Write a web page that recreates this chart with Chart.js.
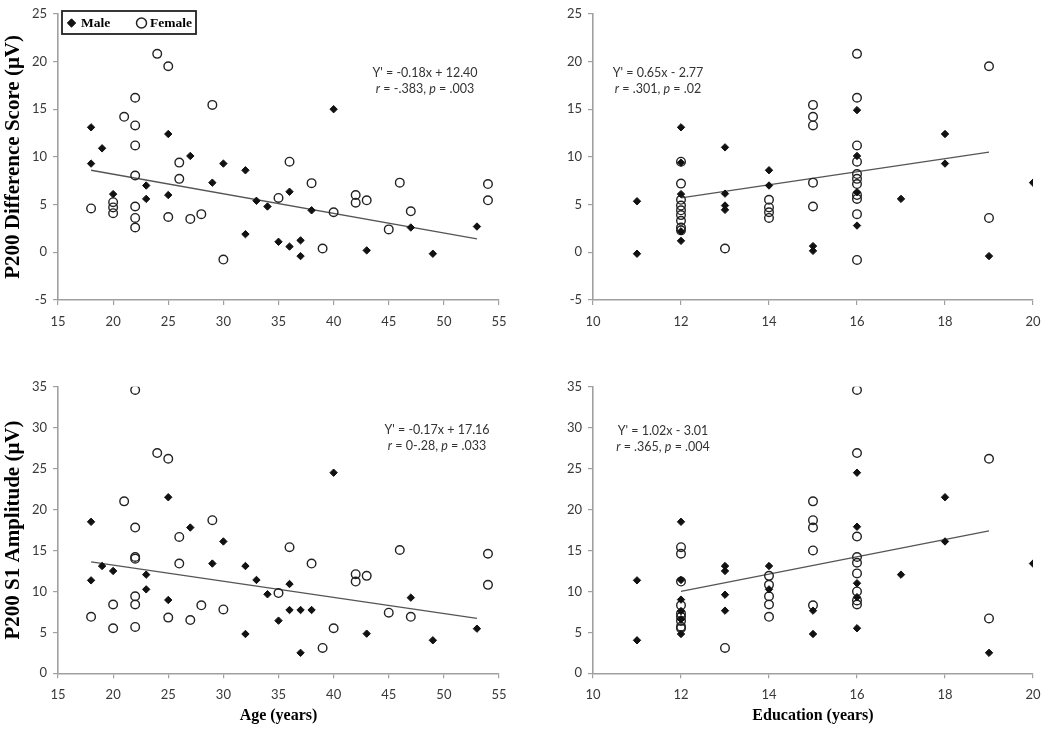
<!DOCTYPE html>
<html>
<head>
<meta charset="utf-8">
<script src="https://cdn.jsdelivr.net/npm/chart.js@4.4.1/dist/chart.umd.min.js"></script>
<style>
  html, body { margin: 0; padding: 0; background: #fff; }
  #wrap { position: relative; width: 1050px; height: 732px; overflow: hidden; background: #fff; }
  canvas { position: absolute; }
</style>
</head>
<body>
<div id="wrap">
  <canvas id="tl" width="525" height="345" style="left:0;top:0"></canvas>
  <canvas id="tr" width="525" height="345" style="left:525px;top:0"></canvas>
  <canvas id="bl" width="525" height="366" style="left:0;top:366px"></canvas>
  <canvas id="br" width="525" height="366" style="left:525px;top:366px"></canvas>
</div>
<script>
// tick labels
const ageTicks = [15, 20, 25, 30, 35, 40, 45, 50, 55];
const eduTicks = [10, 12, 14, 16, 18, 20];
const diffTicks = [-5, 0, 5, 10, 15, 20, 25];
const ampTicks = [0, 5, 10, 15, 20, 25, 30, 35];

// age vs P200 difference score
const maleAge = [18, 19, 18, 20, 25, 23, 23, 25, 27, 30, 29, 32, 32, 33, 34, 36, 35, 36, 37, 37, 38, 40, 43, 47, 49, 53];
const maleDiff = [13.1, 10.9, 9.3, 6.1, 12.4, 7.0, 5.6, 6.0, 10.1, 9.3, 7.3, 8.6, 1.9, 5.4, 4.8, 6.35, 1.1, 0.6, 1.25, -0.4, 4.4, 15.0, 0.2, 2.6, -0.15, 2.7];
const femaleAge = [18, 20, 20, 20, 21, 22, 22, 22, 22, 22, 22, 22, 24, 25, 25, 26, 26, 27, 28, 29, 30, 35, 36, 38, 39, 40, 42, 42, 43, 45, 46, 47, 54, 54];
const femaleDiff = [4.6, 5.25, 4.7, 4.1, 14.2, 16.2, 13.3, 11.2, 8.05, 4.8, 3.6, 2.6, 20.8, 19.5, 3.7, 9.4, 7.7, 3.5, 4.0, 15.45, -0.76, 5.7, 9.5, 7.25, 0.4, 4.2, 6.0, 5.2, 5.45, 2.4, 7.3, 4.3, 7.15, 5.45];
const fitAgeDiffX = [18, 53];
const fitAgeDiffY = [8.6, 1.4];

// education vs P200 difference score
const maleEdu = [11, 11, 12, 12, 12, 12, 12, 13, 13, 13, 13, 14, 14, 15, 15, 16, 16, 16, 16, 17, 18, 18, 19, 20];
const maleEduDiff = [5.35, -0.15, 13.1, 9.4, 6.1, 2.2, 1.2, 11.0, 6.15, 4.9, 4.45, 8.6, 7.0, 0.65, 0.15, 14.9, 10.1, 6.3, 2.8, 5.6, 12.4, 9.3, -0.4, 7.3];
const femaleEdu = [12, 12, 12, 12, 12, 12, 12, 12, 12, 13, 14, 14, 14, 14, 15, 15, 15, 15, 15, 16, 16, 16, 16, 16, 16, 16, 16, 16, 16, 16, 19, 19];
const femaleEduDiff = [9.5, 7.2, 5.5, 4.9, 4.4, 3.9, 3.3, 2.6, 2.3, 0.4, 5.5, 4.7, 4.2, 3.6, 15.45, 14.2, 13.3, 7.3, 4.8, 20.8, 16.2, 11.2, 9.5, 8.2, 7.7, 7.15, 6.0, 5.6, 4.0, -0.8, 19.5, 3.6];
const fitEduDiffX = [12, 19];
const fitEduDiffY = [5.7, 10.5];

// age vs P200 S1 amplitude
const maleAge2 = [18, 18, 19, 20, 23, 23, 25, 25, 27, 29, 30, 32, 32, 33, 34, 35, 36, 36, 37, 37, 38, 40, 43, 47, 49, 53];
const maleAmp = [18.5, 11.35, 13.1, 12.5, 12.05, 10.25, 21.5, 8.95, 17.8, 13.4, 16.1, 13.1, 4.8, 11.4, 9.65, 6.43, 10.9, 7.73, 7.73, 2.5, 7.73, 24.5, 4.84, 9.24, 4.03, 5.45];
const femaleAge2 = [18, 20, 20, 21, 22, 22, 22, 22, 22, 22, 22, 24, 25, 25, 26, 26, 27, 28, 29, 30, 35, 36, 38, 39, 40, 42, 42, 43, 45, 46, 47, 54, 54];
const femaleAmp = [6.9, 8.4, 5.5, 21.0, 34.6, 17.8, 14.2, 14.0, 9.4, 8.4, 5.66, 26.9, 26.2, 6.8, 16.65, 13.4, 6.5, 8.3, 18.7, 7.8, 9.8, 15.4, 13.4, 3.1, 5.5, 12.1, 11.2, 11.9, 7.4, 15.06, 6.9, 14.6, 10.8];
const fitAgeAmpX = [18, 53];
const fitAgeAmpY = [13.6, 6.7];

// education vs P200 S1 amplitude
const maleEdu2 = [11, 11, 12, 12, 12, 12, 12, 12, 13, 13, 13, 13, 14, 14, 15, 15, 16, 16, 16, 16, 16, 17, 18, 18, 19, 20];
const maleEduAmp = [11.35, 4.03, 18.5, 11.4, 9.0, 7.6, 6.6, 4.8, 13.1, 12.5, 9.6, 7.65, 13.1, 10.25, 7.65, 4.8, 24.5, 17.9, 11.0, 9.3, 5.5, 12.05, 21.5, 16.1, 2.5, 13.4];
const femaleEdu2 = [12, 12, 12, 12, 12, 12, 12, 12, 12, 13, 14, 14, 14, 14, 14, 15, 15, 15, 15, 15, 16, 16, 16, 16, 16, 16, 16, 16, 16, 19, 19];
const femaleEduAmp = [15.4, 14.6, 11.2, 8.3, 7.3, 6.9, 6.4, 5.7, 5.5, 3.1, 11.9, 10.8, 9.4, 8.4, 6.9, 21.0, 18.7, 17.8, 15.0, 8.3, 34.6, 26.9, 16.7, 14.2, 13.5, 12.2, 10.0, 8.9, 8.4, 26.2, 6.7];
const fitEduAmpX = [12, 19];
const fitEduAmpY = [10.0, 17.4];

const zip = (xs, ys) => xs.map((x, i) => ({ x: x, y: ys[i] }));

const TICK_FONT = { family: 'Lato, "Open Sans", sans-serif', size: 13 };
const TITLE_FONT = { family: '"Times New Roman", "Liberation Serif", serif', size: 21, weight: 'bold' };

// regression equation text in the corner of each panel
const fitNote = {
    id: 'fitNote',
    afterDatasetsDraw(chart) {
        const note = chart.config.options.note;
        if (!note) return;
        const ctx = chart.ctx;
        ctx.save();
        ctx.fillStyle = '#333';
        ctx.textBaseline = 'middle';
        note.lines.forEach((parts, i) => {
            let w = 0;
            parts.forEach(p => {
                ctx.font = (p.it ? 'italic ' : '') + '12.5px Lato, sans-serif';
                w += ctx.measureText(p.t).width;
            });
            let x = note.x - w / 2;
            const y = note.y + i * 16;
            parts.forEach(p => {
                ctx.font = (p.it ? 'italic ' : '') + '12.5px Lato, sans-serif';
                ctx.textAlign = 'left';
                ctx.fillText(p.t, x, y);
                x += ctx.measureText(p.t).width;
            });
        });
        ctx.restore();
    }
};

// boxed legend, only on the first panel
const boxLegend = {
    id: 'boxLegend',
    afterDraw(chart) {
        if (!chart.config.options.boxLegend) return;
        const ctx = chart.ctx;
        const h = Chart.helpers;
        ctx.save();
        ctx.strokeStyle = '#222';
        ctx.lineWidth = 1.8;
        ctx.strokeRect(62, 11, 134, 23);
        ctx.fillStyle = '#111';
        ctx.strokeStyle = '#111';
        ctx.lineWidth = 1;
        h.drawPoint(ctx, { pointStyle: 'rectRot', radius: 4.2, rotation: 0, borderWidth: 1 }, 71.5, 23);
        ctx.fillStyle = 'rgba(0,0,0,0)';
        ctx.strokeStyle = '#222';
        ctx.lineWidth = 1.5;
        h.drawPoint(ctx, { pointStyle: 'circle', radius: 5, rotation: 0, borderWidth: 1.5 }, 141.5, 23);
        ctx.fillStyle = '#000';
        ctx.font = 'bold 13.5px "Times New Roman", "Liberation Serif", serif';
        ctx.textBaseline = 'middle';
        ctx.fillText('Male', 81, 23.5);
        ctx.fillText('Female', 150, 23.5);
        ctx.restore();
    }
};

function makePanel(id, cfg) {
    const axisColor = '#a0a0a0';
    new Chart(document.getElementById(id), {
        type: 'scatter',
        data: {
            datasets: [
                {
                    label: 'Male',
                    data: zip(cfg.maleX, cfg.maleY),
                    pointStyle: 'rectRot',
                    pointRadius: 3.7,
                    backgroundColor: '#111',
                    borderColor: '#111',
                    borderWidth: 1
                },
                {
                    label: 'Female',
                    data: zip(cfg.femaleX, cfg.femaleY),
                    pointStyle: 'circle',
                    pointRadius: 4.3,
                    backgroundColor: 'rgba(0,0,0,0)',
                    borderColor: '#222',
                    borderWidth: 1.4
                },
                {
                    label: 'fit',
                    type: 'line',
                    data: zip(cfg.fitX, cfg.fitY),
                    borderColor: '#555',
                    borderWidth: 1.3,
                    pointRadius: 0,
                    fill: false
                }
            ]
        },
        options: {
            responsive: false,
            animation: false,
            events: [],
            note: cfg.note,
            boxLegend: cfg.legend,
            layout: { padding: cfg.padding },
            plugins: { legend: { display: false }, tooltip: { enabled: false } },
            scales: {
                x: {
                    type: 'linear',
                    min: cfg.xTicks[0],
                    max: cfg.xTicks[cfg.xTicks.length - 1],
                    afterBuildTicks: s => { s.ticks = cfg.xTicks.map(v => ({ value: v })); },
                    afterFit: s => { s.height = cfg.xH; },
                    grid: { display: true, drawOnChartArea: false, drawTicks: true, tickLength: 5, color: axisColor, lineWidth: 1.2 },
                    border: { display: true, color: axisColor, width: 1.6 },
                    ticks: { font: TICK_FONT, color: '#383838', padding: 9, maxRotation: 0 },
                    title: cfg.xTitle ? { display: true, text: cfg.xTitle, font: { ...TITLE_FONT, size: 16 }, color: '#000', padding: { bottom: 7 } } : { display: false }
                },
                y: {
                    type: 'linear',
                    min: cfg.yTicks[0],
                    max: cfg.yTicks[cfg.yTicks.length - 1],
                    afterBuildTicks: s => { s.ticks = cfg.yTicks.map(v => ({ value: v })); },
                    afterFit: s => { s.width = cfg.yW; },
                    grid: { display: true, drawOnChartArea: false, drawTicks: true, tickLength: 5, color: axisColor, lineWidth: 1.2 },
                    border: { display: true, color: axisColor, width: 1.6 },
                    ticks: { font: TICK_FONT, color: '#383838', padding: 6 },
                    title: cfg.yTitle ? { display: true, text: cfg.yTitle, font: TITLE_FONT, color: '#000', padding: { top: 1 } } : { display: false }
                }
            }
        },
        plugins: [fitNote, boxLegend]
    });
}

makePanel('tl', {
    maleX: maleAge, maleY: maleDiff, femaleX: femaleAge, femaleY: femaleDiff,
    fitX: fitAgeDiffX, fitY: fitAgeDiffY,
    xTicks: ageTicks, yTicks: diffTicks,
    padding: { top: 13, right: 26, left: 0, bottom: 0 }, yW: 58, xH: 45,
    yTitle: 'P200 Difference Score (\u03bcV)', legend: true,
    note: { x: 425, y: 73, lines: [[{ t: "Y' = -0.18x + 12.40" }], [{ t: 'r', it: true }, { t: ' = -.383, ' }, { t: 'p', it: true }, { t: ' = .003' }]] }
});

makePanel('tr', {
    maleX: maleEdu, maleY: maleEduDiff, femaleX: femaleEdu, femaleY: femaleEduDiff,
    fitX: fitEduDiffX, fitY: fitEduDiffY,
    xTicks: eduTicks, yTicks: diffTicks,
    padding: { top: 13, right: 17, left: 0, bottom: 0 }, yW: 68, xH: 45,
    note: { x: 133, y: 73, lines: [[{ t: "Y' = 0.65x - 2.77" }], [{ t: 'r', it: true }, { t: ' = .301, ' }, { t: 'p', it: true }, { t: ' = .02' }]] }
});

makePanel('bl', {
    maleX: maleAge2, maleY: maleAmp, femaleX: femaleAge2, femaleY: femaleAmp,
    fitX: fitAgeAmpX, fitY: fitAgeAmpY,
    xTicks: ageTicks, yTicks: ampTicks,
    padding: { top: 20.7, right: 26, left: 0, bottom: 0 }, yW: 58, xH: 58.7,
    yTitle: 'P200 S1 Amplitude (\u03bcV)', xTitle: 'Age (years)',
    note: { x: 437, y: 64, lines: [[{ t: "Y' = -0.17x + 17.16" }], [{ t: 'r', it: true }, { t: ' = 0-.28, ' }, { t: 'p', it: true }, { t: ' = .033' }]] }
});

makePanel('br', {
    maleX: maleEdu2, maleY: maleEduAmp, femaleX: femaleEdu2, femaleY: femaleEduAmp,
    fitX: fitEduAmpX, fitY: fitEduAmpY,
    xTicks: eduTicks, yTicks: ampTicks,
    padding: { top: 20.7, right: 17, left: 0, bottom: 0 }, yW: 68, xH: 58.7,
    xTitle: 'Education (years)',
    note: { x: 138, y: 65, lines: [[{ t: "Y' = 1.02x - 3.01" }], [{ t: 'r', it: true }, { t: ' = .365, ' }, { t: 'p', it: true }, { t: ' = .004' }]] }
});
</script>
</body>
</html>
